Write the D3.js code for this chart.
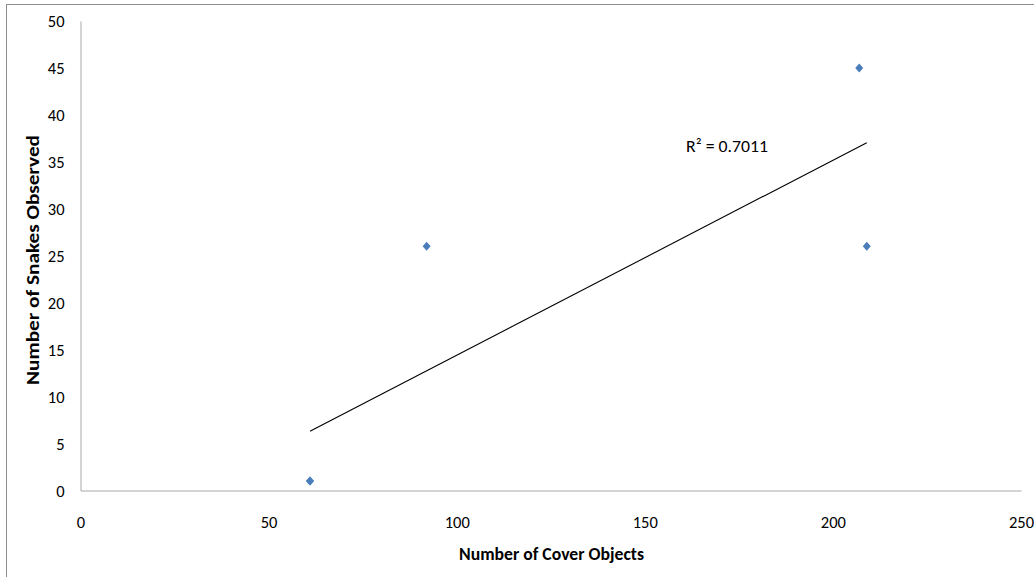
<!DOCTYPE html>
<html>
<head>
<meta charset="utf-8">
<script src="https://cdn.jsdelivr.net/npm/d3@7"></script>
<style>
  html, body { margin: 0; padding: 0; background: #fff; }
  svg { display: block; }
  text { font-family: Carlito, Lato, "Open Sans", sans-serif; fill: #000; }
</style>
</head>
<body>
<svg id="chart" width="1034" height="577"></svg>
<script>
// Survey sites: cover objects counted vs snakes observed
const coverObjects = [61, 61, 92, 207, 209];
const snakesObserved = [1, 1, 26, 45, 26];
const xTicks = [0, 50, 100, 150, 200, 250];
const yTicks = [0, 5, 10, 15, 20, 25, 30, 35, 40, 45, 50];
const xTitle = "Number of Cover Objects";
const yTitle = "Number of Snakes Observed";

const svg = d3.select("#chart");
const W = 1034, H = 577;

// outer chart frame (only top and left edges fall inside the view)
svg.append("rect")
  .attr("x", 6.5).attr("y", 4.5)
  .attr("width", W + 20).attr("height", H + 20)
  .attr("fill", "none").attr("stroke", "#8e8e8e").attr("stroke-width", 1);

const x = d3.scaleLinear().domain([0, 250]).range([80.5, 1021]);
const y = d3.scaleLinear().domain([0, 50]).range([490.5, 21]);

// axes (no tick marks, labels only)
const xAxis = svg.append("g").attr("transform", `translate(0,${y(0)})`)
  .call(d3.axisBottom(x).tickValues(xTicks).tickSize(0).tickPadding(26).tickFormat(d3.format("d")));
const yAxis = svg.append("g").attr("transform", `translate(${x(0)},0)`)
  .call(d3.axisLeft(y).tickValues(yTicks).tickSize(0).tickPadding(16).tickFormat(d3.format("d")));
[xAxis, yAxis].forEach(g => {
  g.select(".domain").attr("stroke", "#a9a9a9").attr("stroke-width", 1);
  g.selectAll("text").attr("font-size", 16.5).attr("font-family", "Carlito, Lato, 'Open Sans', sans-serif").attr("fill", "#000");
});
xAxis.selectAll("text").attr("dy", null).attr("y", 37);
yAxis.selectAll("text").attr("dy", "0.36em");

// least-squares trendline
const n = coverObjects.length;
const mx = d3.mean(coverObjects), my = d3.mean(snakesObserved);
let sxy = 0, sxx = 0, syy = 0;
for (let i = 0; i < n; i++) {
  const dx = coverObjects[i] - mx, dy = snakesObserved[i] - my;
  sxy += dx * dy; sxx += dx * dx; syy += dy * dy;
}
const slope = sxy / sxx, intercept = my - slope * mx;
const r2 = (sxy * sxy) / (sxx * syy);
const [x0, x1] = d3.extent(coverObjects);

svg.append("line")
  .attr("x1", x(x0)).attr("y1", y(slope * x0 + intercept))
  .attr("x2", x(x1)).attr("y2", y(slope * x1 + intercept))
  .attr("stroke", "#000").attr("stroke-width", 1.1);

// data markers
svg.append("g").selectAll("path")
  .data(coverObjects.map((c, i) => [c, snakesObserved[i]]))
  .join("path")
  .attr("transform", d => `translate(${x(d[0])},${y(d[1])})`)
  .attr("d", "M0,-4.5L4,0L0,4.5L-4,0Z")
  .attr("fill", "#4a7ebb");

// R² label
svg.append("text")
  .attr("x", 686).attr("y", 152)
  .attr("font-size", 17)
  .attr("textLength", 82).attr("lengthAdjust", "spacingAndGlyphs")
  .text(`R² = ${r2.toFixed(4)}`);

// axis titles
svg.append("text")
  .attr("x", 551.5).attr("y", 560)
  .attr("text-anchor", "middle")
  .attr("font-size", 17).attr("font-weight", "bold")
  .attr("textLength", 185).attr("lengthAdjust", "spacingAndGlyphs")
  .text(xTitle);
svg.append("text")
  .attr("transform", "translate(38.5,260) rotate(-90)")
  .attr("text-anchor", "middle")
  .attr("font-size", 17).attr("font-weight", "bold")
  .attr("textLength", 250).attr("lengthAdjust", "spacingAndGlyphs")
  .text(yTitle);
</script>
</body>
</html>
